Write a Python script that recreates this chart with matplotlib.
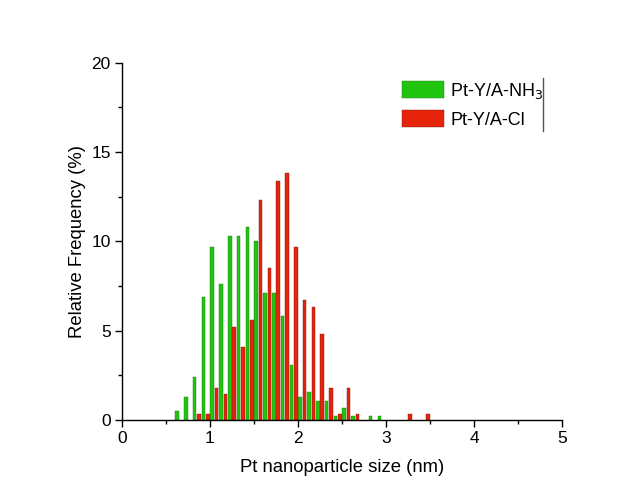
import numpy as np
import matplotlib
matplotlib.use("Agg")
from matplotlib import pyplot as plt
from matplotlib.lines import Line2D
from matplotlib.patches import Patch

# bin centres (nm), 0.1 nm bins
bins_nh3 = [0.65, 0.75, 0.85, 0.95, 1.05, 1.15, 1.25, 1.35, 1.45, 1.55, 1.65,
            1.75, 1.85, 1.95, 2.05, 2.15, 2.25, 2.35, 2.45, 2.55, 2.65, 2.85, 2.95]
freq_nh3 = [0.5, 1.3, 2.4, 6.9, 9.7, 7.6, 10.3, 10.3, 10.8, 10.0, 7.1,
            7.1, 5.8, 3.1, 1.3, 1.55, 1.05, 1.05, 0.25, 0.7, 0.25, 0.25, 0.25]

bins_cl = [0.85, 0.95, 1.05, 1.15, 1.25, 1.35, 1.45, 1.55, 1.65, 1.75, 1.85,
           1.95, 2.05, 2.15, 2.25, 2.35, 2.45, 2.55, 2.65, 3.25, 3.45]
freq_cl = [0.35, 0.35, 1.8, 1.45, 5.2, 4.1, 5.6, 12.3, 8.5, 13.4, 13.8,
           9.7, 6.7, 6.3, 4.8, 1.8, 0.35, 1.8, 0.35, 0.35, 0.35]

green = '#21c40f'
red = '#e6240c'

plt.rcParams['font.family'] = ['Liberation Sans', 'DejaVu Sans']

fig = plt.figure(figsize=(6.44, 4.95), dpi=100)
ax = fig.add_axes([0.1894, 0.1515, 0.6833, 0.7218])

w = 0.04
ax.bar(np.array(bins_nh3) - 0.025, freq_nh3, width=w, color=green,
       edgecolor='#1a7a10', linewidth=0.3)
ax.bar(np.array(bins_cl) + 0.025, freq_cl, width=w, color=red,
       edgecolor='#7a1a0a', linewidth=0.3)

ax.set_xlim(0, 5)
ax.set_ylim(0, 20)
ax.set_xticks(range(6))
ax.set_xticks(np.arange(0.5, 5, 1), minor=True)
ax.set_yticks(range(0, 21, 5))
ax.set_yticks(np.arange(2.5, 20, 5), minor=True)
ax.spines['top'].set_visible(False)
ax.spines['right'].set_visible(False)
for s in ['left', 'bottom']:
    ax.spines[s].set_linewidth(1.0)
ax.tick_params(which='major', direction='out', length=5, width=1.0,
               labelsize=12.5, pad=3)
ax.tick_params(which='minor', direction='out', length=3, width=1.0)

ax.set_xlabel('Pt nanoparticle size (nm)', fontsize=13.3, labelpad=9)
ax.set_ylabel('Relative Frequency (%)', fontsize=13.3, labelpad=4)

handles = [Patch(facecolor=green, edgecolor='#1a7a10', linewidth=0.3),
           Patch(facecolor=red, edgecolor='#7a1a0a', linewidth=0.3)]
ax.legend(handles, ['Pt-Y/A-NH$_3$', 'Pt-Y/A-Cl'], loc='upper left',
          bbox_to_anchor=(0.6, 0.995), frameon=False, fontsize=13,
          handlelength=2.3, handleheight=1.1, handletextpad=0.35,
          labelspacing=0.5)

# thin vertical bar that sits right of the legend in the original
fig.add_artist(Line2D([543 / 644, 543 / 644], [1 - 78 / 495, 1 - 131 / 495],
                      color='#555555', linewidth=1.0))

fig.savefig('out.png', dpi=100)
